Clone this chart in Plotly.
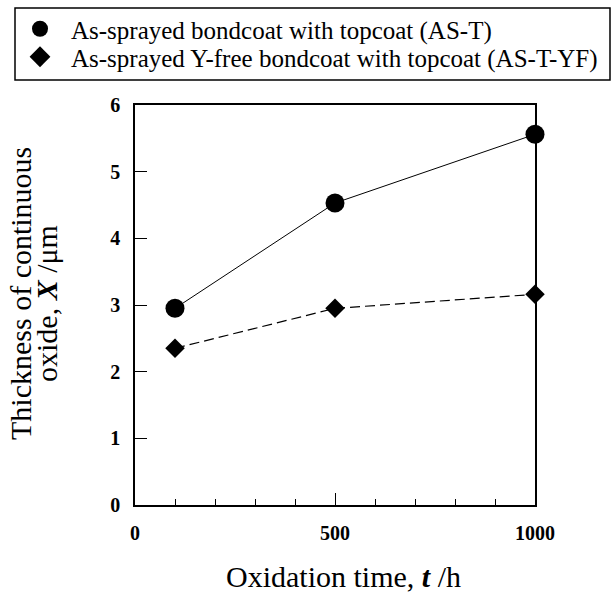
import plotly.graph_objects as go

time_h = [100, 500, 1000]
as_t = [2.95, 4.53, 5.56]
as_t_yf = [2.35, 2.95, 3.16]
series_names = ["As-sprayed bondcoat with topcoat (AS-T)",
                "As-sprayed Y-free bondcoat with topcoat (AS-T-YF)"]
x_tickvals = [0, 500, 1000]
y_tickvals = [0, 1, 2, 3, 4, 5, 6]

FONT = "Liberation Serif"
L, T, W, H = 135, 105, 400, 400


def px(x):
    return (x - L) / W


def py(y):
    return (T + H - y) / H


fig = go.Figure()
# data traces (no legend entries)
fig.add_trace(go.Scatter(
    x=time_h, y=as_t, name=series_names[0], mode="lines+markers",
    line=dict(color="black", width=1), cliponaxis=False,
    marker=dict(symbol="circle", size=19, color="black"), showlegend=False,
))
fig.add_trace(go.Scatter(
    x=time_h, y=as_t_yf, name=series_names[1], mode="lines+markers",
    line=dict(color="black", width=1.2, dash="10px,5px"), cliponaxis=False,
    marker=dict(symbol="diamond", size=15, color="black"), showlegend=False,
))
# marker-only legend entries
fig.add_trace(go.Scatter(
    x=[None], y=[None], name=series_names[0], mode="markers",
    marker=dict(symbol="circle", size=19, color="black"), legend="legend",
))
fig.add_trace(go.Scatter(
    x=[None], y=[None], name=series_names[1], mode="markers",
    marker=dict(symbol="diamond", size=16, color="black"), legend="legend2",
))

leg_common = dict(
    xanchor="left", yanchor="middle",
    font=dict(family=FONT, size=25, color="black"),
    bgcolor="rgba(0,0,0,0)", borderwidth=0, itemwidth=52,
)

fig.update_layout(
    width=615, height=592,
    margin=dict(l=L, r=615 - L - W, t=T, b=592 - T - H, autoexpand=False),
    paper_bgcolor="white", plot_bgcolor="white",
    font=dict(family=FONT, color="black"),
    showlegend=True,
    legend=dict(x=px(9), y=py(29), **leg_common),
    legend2=dict(x=px(9), y=py(57), **leg_common),
    shapes=[dict(type="rect", xref="paper", yref="paper",
                 x0=px(15), x1=px(610), y0=py(80), y1=py(8),
                 line=dict(color="black", width=1.5))],
    annotations=[
        dict(text="Thickness of continuous",
             xref="paper", yref="paper", x=px(20), y=py(294),
             xanchor="center", yanchor="middle", textangle=-90, showarrow=False,
             font=dict(family=FONT, size=30, color="black")),
        dict(text="oxide, <b><i>X</i></b> /μm",
             xref="paper", yref="paper", x=px(46), y=py(304),
             xanchor="center", yanchor="middle", textangle=-90, showarrow=False,
             font=dict(family=FONT, size=30, color="black")),
        dict(text="Oxidation time, <b><i>t</i></b> /h",
             xref="paper", yref="paper", x=px(343), y=py(576),
             xanchor="center", yanchor="middle", showarrow=False,
             font=dict(family=FONT, size=30, color="black")),
    ],
)

fig.update_xaxes(
    range=[0, 1000], showgrid=False, zeroline=False, automargin=False,
    showline=True, linecolor="black", linewidth=1.5, mirror=True,
    tickmode="array", tickvals=x_tickvals, ticktext=[f"<b>{v}</b>" for v in x_tickvals],
    ticks="inside", ticklen=12, tickwidth=1, tickcolor="black",
    minor=dict(dtick=100, ticks="inside", ticklen=6, tickwidth=1, tickcolor="black"),
    tickfont=dict(family=FONT, size=20, color="black"),
    ticklabelstandoff=9,
)
fig.update_yaxes(
    range=[0, 6], showgrid=False, zeroline=False, automargin=False,
    showline=True, linecolor="black", linewidth=1.5, mirror=True,
    tickmode="array", tickvals=y_tickvals, ticktext=[f"<b>{v}</b>" for v in y_tickvals],
    ticks="inside", ticklen=12, tickwidth=1, tickcolor="black",
    tickfont=dict(family=FONT, size=20, color="black"),
    ticklabelstandoff=9,
)

fig.write_html("out.html", config={"displayModeBar": False},
               post_script="document.body.style.margin='0';")
